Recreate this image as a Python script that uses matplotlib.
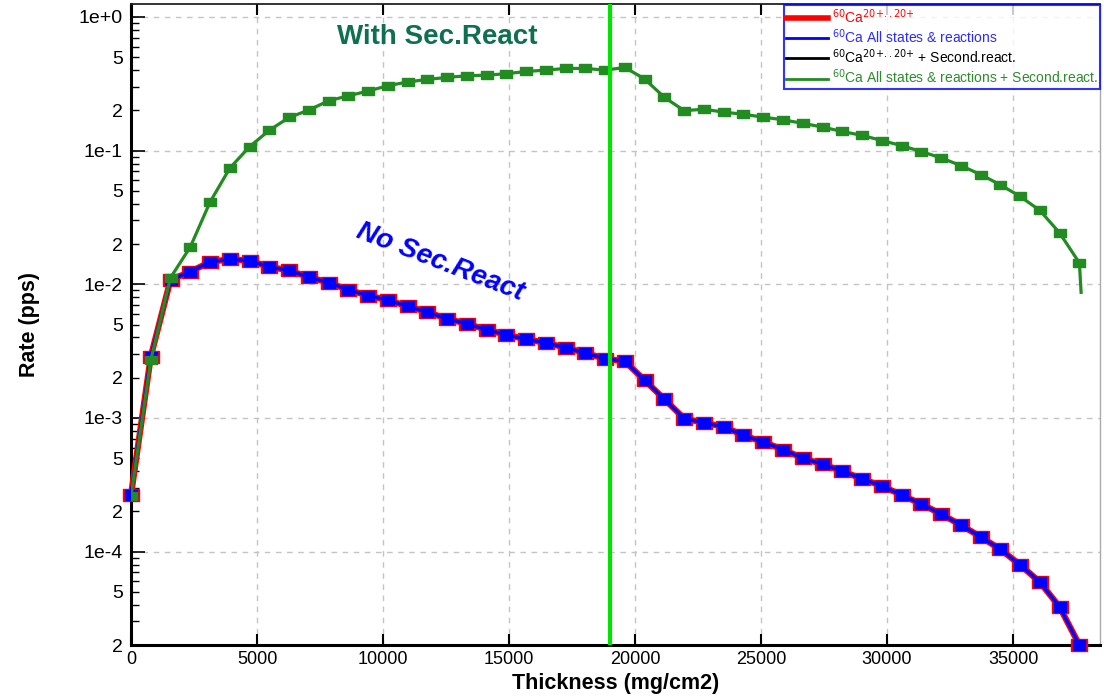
import matplotlib
matplotlib.use("Agg")

import matplotlib.pyplot as plt
from matplotlib.ticker import FixedLocator, FixedFormatter, FuncFormatter
from matplotlib.lines import Line2D

plt.rcParams['font.family'] = ['Liberation Sans', 'DejaVu Sans']

# Epaisseur (mg/cm2)
thickness = [0, 784, 1568, 2352, 3136, 3920, 4704, 5488, 6272, 7056,
             7840, 8624, 9408, 10192, 10976, 11760, 12544, 13328, 14112, 14896,
             15680, 16464, 17248, 18032, 18816, 19600, 20384, 21168, 21952, 22736,
             23520, 24304, 25088, 25872, 26656, 27440, 28224, 29008, 29792, 30576,
             31360, 32144, 32928, 33712, 34496, 35280, 36064, 36848, 37632]

# Taux sans reactions secondaires (pps)
rate_no_sec = [2.65e-4, 2.87e-3, 1.08e-2, 1.24e-2, 1.47e-2, 1.54e-2, 1.50e-2, 1.35e-2, 1.27e-2, 1.13e-2,
               1.03e-2, 9.08e-3, 8.24e-3, 7.6e-3, 6.85e-3, 6.18e-3, 5.52e-3, 5.06e-3, 4.57e-3, 4.19e-3,
               3.87e-3, 3.65e-3, 3.35e-3, 3.06e-3, 2.77e-3, 2.65e-3, 1.91e-3, 1.38e-3, 9.9e-4, 9.2e-4,
               8.6e-4, 7.4e-4, 6.6e-4, 5.8e-4, 5.0e-4, 4.5e-4, 4.0e-4, 3.5e-4, 3.1e-4, 2.65e-4,
               2.27e-4, 1.91e-4, 1.58e-4, 1.29e-4, 1.04e-4, 7.96e-5, 5.91e-5, 3.85e-5, 2.0e-5]

# Taux avec reactions secondaires (pps) + dernier point sans marqueur
thickness_sec = thickness + [37700]
rate_sec = [2.6e-4, 2.71e-3, 1.12e-2, 1.90e-2, 4.12e-2, 7.39e-2, 0.107, 0.142, 0.177, 0.201,
            0.236, 0.257, 0.279, 0.306, 0.326, 0.341, 0.353, 0.363, 0.367, 0.376,
            0.391, 0.400, 0.412, 0.412, 0.400, 0.419, 0.343, 0.250, 0.199, 0.204,
            0.194, 0.187, 0.178, 0.170, 0.160, 0.150, 0.139, 0.130, 0.119, 0.109,
            0.0984, 0.0882, 0.0773, 0.0662, 0.0555, 0.0454, 0.0357, 0.0242, 0.01445, 0.0087]

target_thickness = 19000

legend_labels = [r'$^{60}$Ca$^{20{+}..20{+}}$',
                 r'$^{60}$Ca All states & reactions',
                 r'$^{60}$Ca$^{20{+}..20{+}}$ + Second.react.',
                 r'$^{60}$Ca All states & reactions + Second.react.']

# marqueur rectangulaire (plus large que haut)
rect = [(-1, -0.75), (1, -0.75), (1, 0.75), (-1, 0.75), (-1, -0.75)]
rect_g = [(-1, -0.65), (1, -0.65), (1, 0.65), (-1, 0.65), (-1, -0.65)]

W, H = 1104, 698
fig = plt.figure(figsize=(W / 100, H / 100), dpi=100)
ax = fig.add_axes([131 / W, 1 - 645 / H, (1100 - 131) / W, (645 - 4) / H])

ax.set_yscale('log')
ax.set_xlim(0, 38450)
ax.set_ylim(2e-5, 1.25)

ax.grid(True, which='major', ls=(0, (4, 4)), color='#c4c4c4', lw=1)

ax.plot(thickness, rate_no_sec, color='black', lw=2, zorder=2, clip_on=False)
ax.plot(thickness, rate_no_sec, color='red', lw=4.5, marker=rect, ms=11,
        mfc='red', mec='red', zorder=3, clip_on=False)
ax.plot(thickness, rate_no_sec, color='blue', lw=2.4, marker=rect, ms=9,
        mfc='blue', mec='blue', zorder=4, clip_on=False)
ax.plot(thickness_sec, rate_sec, color='#228b22', lw=2.3, marker=rect_g, ms=8.5,
        markevery=slice(0, len(thickness)), mfc='#228b22', mec='#228b22', zorder=5)

ax.axvline(target_thickness, color='#00e400', lw=3, zorder=6)

ax.text(12140, 0.71, 'With Sec.React', color='#0f7050', fontsize=20,
        fontweight='bold', ha='center', va='center')
ax.text(12260, 0.0146, 'No Sec.React', color='blue', fontsize=20, fontweight='bold',
        style='italic', rotation=-21, rotation_mode='anchor', ha='center', va='center')

# axe y : labels sur decades et sur 2, 5
decades = [1, 1e-1, 1e-2, 1e-3, 1e-4]
ax.yaxis.set_major_locator(FixedLocator(decades))
ax.yaxis.set_major_formatter(FixedFormatter(['1e+0', '1e-1', '1e-2', '1e-3', '1e-4']))
minors = [m * d for d in [1, 1e-1, 1e-2, 1e-3, 1e-4, 1e-5] for m in range(2, 10) if 2e-5 <= m * d <= 1.25]
ax.yaxis.set_minor_locator(FixedLocator(minors))


def minor_label(v, pos):
    mant = round(v / 10 ** round(float(f"{v:e}".split('e')[1])), 3)
    return str(int(mant)) if mant in (2, 5) else ''


ax.yaxis.set_minor_formatter(FuncFormatter(minor_label))
ax.xaxis.set_major_locator(FixedLocator([0, 5000, 10000, 15000, 20000, 25000, 30000, 35000]))
ax.xaxis.set_major_formatter(FuncFormatter(lambda v, p: f"{int(v)}"))

ax.tick_params(axis='y', which='both', direction='in', labelsize=14, pad=6)
ax.tick_params(axis='y', which='major', length=10, width=1.2)
ax.tick_params(axis='y', which='minor', length=6, width=1)
ax.tick_params(axis='x', which='major', direction='in', top=True, length=8, width=1.5,
               labelsize=13, pad=4)

ax.set_xlabel('Thickness (mg/cm2)', fontsize=15.5, fontweight='bold', labelpad=4)
ax.set_ylabel('Rate (pps)', fontsize=15.5, fontweight='bold', labelpad=28)

for s in ['left', 'bottom']:
    ax.spines[s].set_linewidth(2.2)
ax.spines['top'].set_linewidth(1.3)
ax.spines['top'].set_color('#222222')
ax.spines['right'].set_linewidth(1)
ax.spines['right'].set_color('#aaaaaa')

handles = [Line2D([], [], color='red', lw=4),
           Line2D([], [], color='blue', lw=2),
           Line2D([], [], color='black', lw=2),
           Line2D([], [], color='#228b22', lw=2)]
leg = fig.legend(handles, legend_labels, loc='upper right',
                 bbox_to_anchor=(1100 / W, 1 - 5 / H), fontsize=10, frameon=True,
                 fancybox=False, edgecolor='blue', borderpad=0.15, labelspacing=0.12,
                 handlelength=3.0, handletextpad=0.3, borderaxespad=0,
                 labelcolor=['red', '#2a2aff', 'black', '#2e8b2e'])
leg.get_frame().set_linewidth(1.5)

fig.savefig('out.png', dpi=100)
